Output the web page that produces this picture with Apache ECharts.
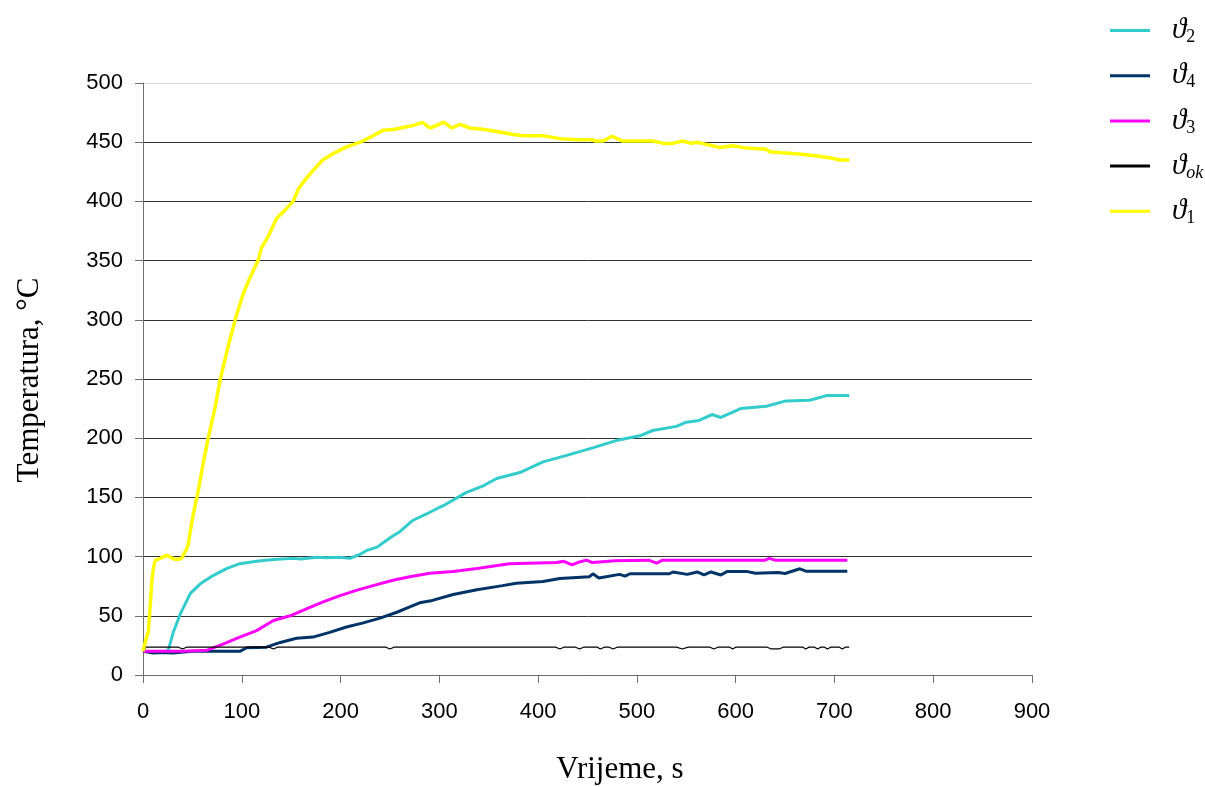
<!DOCTYPE html>
<html>
<head>
<meta charset="utf-8">
<script src="https://cdn.jsdelivr.net/npm/echarts@6/dist/echarts.min.js"></script>
<style>html,body{margin:0;padding:0;background:#fff}#c{width:1205px;height:787px}</style>
</head>
<body>
<div id="c"></div>
<script>
// Data: [time s, temperature °C]
var theta1 = [[0,20],[3,30],[5.5,37],[7,55],[9,80],[11,92],[12.5,97],[17.5,98.5],[21,100],[24,101],[28,99.5],[31,98],[36,97.6],[39,98.5],[41,100],[44.5,107],[46,111],[48,122],[51,136],[56,156],[61,179],[66,200],[73,226],[78,249],[86,277],[95,305],[101.5,322],[108.5,336],[116.5,350],[120,361],[126.5,370],[135.5,386],[143,392],[152,400],[157,410],[162,416],[172,426],[182,435],[194,441],[206,446],[220,450],[232,455],[243,460],[255,461],[267,463],[273,464],[283,466.7],[290.5,462],[297,464],[304,467],[313,462],[321,465],[331,462],[344,461],[358,459],[375,456.5],[385,455.5],[405,455.5],[422,453],[440,452],[455,452],[458,451],[466,451],[475,455],[485,451],[516,451],[527,449],[536,449],[546,451],[555,449],[560,450],[566,449],[584,445.5],[597,447],[611,445],[631,444],[634,442],[647,441],[664,440],[681,438.5],[698,436.5],[705,435],[715,435]];
var theta2 = [[0,20],[20,19],[25.6,21],[31,37],[38,52],[48,69],[58,77],[71,84],[85,90],[98,94],[115,96],[132,97.5],[152,98.5],[160,98],[176,99.5],[185,99],[199,99.5],[209.5,98.5],[220,102],[226,105],[237,108],[252,117],[260,121],[273,130.5],[287,136],[300,141.5],[304,143],[327,154],[345,160],[358,166],[381.5,171],[405,180],[429,185.5],[456,192],[479,198],[503,202],[516,206.5],[540,210],[550,213.5],[563,215],[576,220],[585,217.5],[605,225],[631,227],[651,231.5],[675,232],[692,236],[715,236]];
var theta3 = [[0,20],[20,20],[40,20],[65,21],[81,26],[98,32],[115,37.5],[132,46],[149,50],[166,56],[183,62],[199.5,67],[216,71.5],[233,75.5],[253,80],[270,83],[290.5,86],[314,87.5],[338,90],[371,94],[418.5,95],[426,96],[434.5,93],[440,95],[449,97],[455,95],[478,96.5],[512,97],[520,94.5],[526,97],[630,97],[634,98.5],[640,97],[713,97]];
var theta4 = [[0,20],[10,18.5],[20,19],[30,18.5],[50,20],[98,20],[105,23],[125,23.5],[139,27.5],[155.5,31],[172,32],[189,36],[206,40.5],[223,44],[240,48],[257,53],[267,56.5],[280,61],[293,63],[314,68],[338,72],[364,75.5],[378,77.5],[405,79],[422,81.5],[452,83],[455.5,85.5],[461.5,82],[482.5,85],[488,83.5],[493,85.5],[533,85.5],[536.5,87],[551,85],[561,87],[568,84.5],[575,87],[585,84.5],[591.5,87.5],[611,87.5],[620,86],[643,86.5],[650,85.7],[665,89.7],[671,87.7],[713,87.7]];
var thetaOk = [[0,20],[3,23.5],[36,23.5],[40,22],[44,23.5],[128,23.5],[132,22],[136,23.5],[246,23.5],[250,22],[254,23.5],[418,23.5],[422,22],[426,23.5],[438,23.5],[442,22],[446,23.5],[460,23.5],[463,22],[467,23.5],[472,23.5],[476,22],[480,23.5],[540,23.5],[546,22],[552,23.5],[574,23.5],[578,22],[582,23.5],[594,23.5],[597,22],[600,23.5],[632,23.5],[636,22],[644,22],[648,23.5],[668,23.5],[671,22],[674,23.5],[680,23.5],[683,22],[686,23.5],[690,23.5],[693,22],[696,23.5],[705,23.5],[708,22],[711,23.5],[715,23.5]];

var seriesNames = ['ϑ2','ϑ4','ϑ3','ϑok','ϑ1'];
var xTitle = 'Vrijeme, s';
var yTitle = 'Temperatura, °C';

var chart = echarts.init(document.getElementById('c'), null, {renderer:'canvas'});
var axisColor = '#6e6e6e';
var splitColors = ['#333','#333','#333','#333','#333','#333','#333','#333','#333','#333','#d9d9d9'];
function mk(name, data, color, width){
  return {name:name, type:'line', data:data, symbol:'none', showSymbol:false, smooth:false,
    lineStyle:{color:color, width:width}, itemStyle:{color:color}, animation:false};
}
chart.setOption({
  animation:false,
  backgroundColor:'#fff',
  grid:{left:143, right:173, top:83, bottom:112},
  xAxis:{type:'value', min:0, max:900, interval:100,
    axisLine:{show:true, lineStyle:{color:axisColor, width:1}},
    axisTick:{show:true, length:8, lineStyle:{color:axisColor}},
    axisLabel:{color:'#000', fontSize:22, fontFamily:'Liberation Sans', margin:26},
    splitLine:{show:false}},
  yAxis:{type:'value', min:0, max:500, interval:50,
    axisLine:{show:true, lineStyle:{color:axisColor, width:1}},
    axisTick:{show:true, length:8, lineStyle:{color:axisColor}},
    axisLabel:{color:'#000', fontSize:22, fontFamily:'Liberation Sans', margin:20},
    splitLine:{show:true, lineStyle:{color:splitColors, width:1}}},
  legend:{orient:'vertical', left:1105, top:11, icon:'rect', itemWidth:40, itemHeight:3, itemGap:14.7,
    data:seriesNames,
    formatter:function(n){ var s=n.slice(1); return '{t|ϑ}{' + (s==='ok'?'si':'s') + '|' + s + '}'; },
    textStyle:{color:'#000', rich:{
      t:{fontFamily:'Liberation Serif', fontStyle:'italic', fontSize:29, color:'#000', padding:[0,0,0,17]},
      s:{fontFamily:'Liberation Serif', fontSize:18, color:'#000', padding:[14,0,0,0]},
      si:{fontFamily:'Liberation Serif', fontStyle:'italic', fontSize:18, color:'#000', padding:[14,0,0,0]}
    }}},
  graphic:[
    {type:'text', x:30, y:380, rotation:Math.PI/2, style:{text:yTitle, font:'31px "Liberation Serif"', fill:'#000', textAlign:'center', textVerticalAlign:'middle'}},
    {type:'text', x:620, y:770, style:{text:xTitle, font:'31px "Liberation Serif"', fill:'#000', textAlign:'center', textVerticalAlign:'middle'}}
  ],
  series:[
    mk('ϑ2', theta2, '#33cccc', 3),
    mk('ϑ4', theta4, '#003366', 3),
    mk('ϑ3', theta3, '#ff00ff', 3),
    mk('ϑok', thetaOk, '#000000', 1.2),
    mk('ϑ1', theta1, '#ffff00', 3.5)
  ]
});
</script>
</body>
</html>
